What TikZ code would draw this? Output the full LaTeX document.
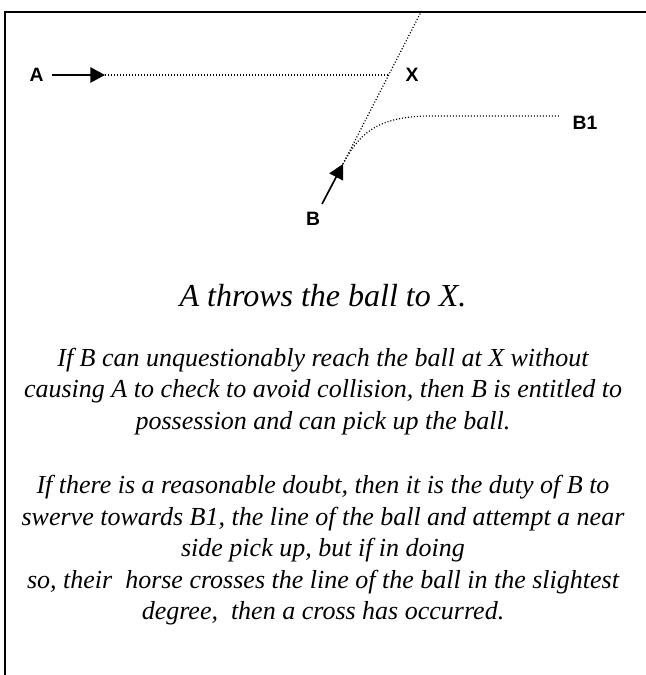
\documentclass[tikz,border=0pt]{standalone}
\usepackage{fontspec}
\setmainfont{Liberation Serif}
\setsansfont{Liberation Sans}
\usepackage{tikz}
\usetikzlibrary{arrows.meta,positioning}

\begin{document}
\begin{tikzpicture}[x=0.75pt,y=-0.75pt,
  lbl/.style={font=\sffamily\bfseries\fontsize{14.5}{17}\selectfont,inner sep=0pt},
  arr/.style={-{Triangle[length=11pt,width=11.5pt]},line width=1.25pt},
  dots/.style={line width=0.9pt,dash pattern=on 0.8pt off 1.45pt},
  para/.style={align=center,font=\itshape\fontsize{19.5}{23.6}\selectfont}
]
\useasboundingbox (0,0) rectangle (646,675);
% frame, cut off at right and bottom
\draw[line width=1.5pt] (5,675) -- (5,12) -- (646,12);
% players and points
\node[lbl] (A) at (36.5,75) {A};
\node[lbl] (X) at (412,75) {X};
\node[lbl] (B1) at (585,123) {B1};
\node[lbl] (B) at (313,218.5) {B};
\coordinate (ahead) at (105,75);
\coordinate (xpt) at (389,75);
\coordinate (top) at (422,10);
\coordinate (bhead) at (343,164);
\coordinate (btail) at (322,204);
\coordinate (bend) at (430,116);
\coordinate (b1end) at (560,116);
% runs
\draw[arr] ([xshift=6pt]A.east) -- (ahead);
\draw[arr] (btail) -- (bhead);
\draw[dots] (ahead) -- (xpt);
\draw[dots] (bhead) -- (top);
\draw[dots] (bhead) .. controls (358,136) and (375,116) .. (bend) -- (b1end);
% text
\node[align=center,font=\itshape\fontsize{24}{28}\selectfont] (title) at (323,296) {A throws the ball to X.};
\node[para] (rule1) at (323,391.5) {If B can unquestionably reach the ball at X without\\
causing A to check to avoid collision, then B is entitled to\\
possession and can pick up the ball.};
\node[para] (rule2) at (323,550.5) {If there is a reasonable doubt, then it is the duty of B to\\
swerve towards B1, the line of the ball and attempt a near\\
side pick up, but if in doing\\
so, their~ horse crosses the line of the ball in the slightest\\
degree,~ then a cross has occurred.};
\end{tikzpicture}
\end{document}
